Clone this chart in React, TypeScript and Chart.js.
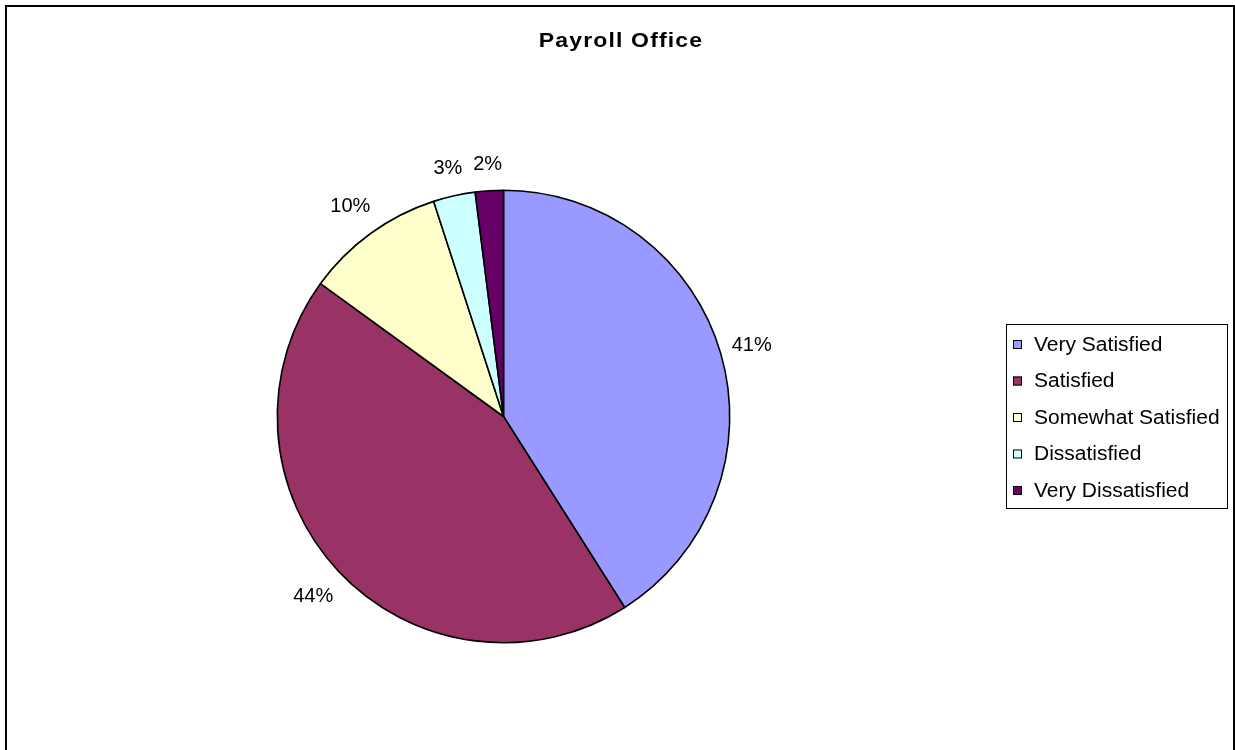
import React, { useEffect, useRef } from "react";
import { Chart, registerables } from "chart.js";

Chart.register(...registerables);

const TITLE = "Payroll Office";
const CATEGORIES = [
  "Very Satisfied",
  "Satisfied",
  "Somewhat Satisfied",
  "Dissatisfied",
  "Very Dissatisfied",
];
const VALUES = [41, 44, 10, 3, 2];
const COLORS = ["#9999FF", "#993366", "#FFFFCC", "#CCFFFF", "#660066"];

const FONT = "'Liberation Sans', Arial, sans-serif";

function drawStretched(
  ctx: CanvasRenderingContext2D,
  text: string,
  x: number,
  y: number,
  sx: number,
  align: "left" | "center"
) {
  const w = ctx.measureText(text).width * sx;
  const left = align === "center" ? x - w / 2 : x;
  ctx.save();
  ctx.translate(left, y);
  ctx.scale(sx, 1);
  ctx.textAlign = "left";
  ctx.fillText(text, 0, 0);
  ctx.restore();
}

const decorPlugin = {
  id: "decor",
  afterDraw(chart: any) {
    const ctx = chart.ctx as CanvasRenderingContext2D;
    const total = VALUES.reduce((a, b) => a + b, 0);
    // outer frame
    ctx.save();
    ctx.strokeStyle = "#000";
    ctx.lineWidth = 2;
    ctx.strokeRect(6, 6, 1228, 800);
    ctx.restore();

    // title
    ctx.save();
    ctx.fillStyle = "#000";
    ctx.font = `bold 20px ${FONT}`;
    (ctx as any).letterSpacing = "1px";
    ctx.textBaseline = "alphabetic";
    drawStretched(ctx, TITLE, 621, 47, 1.15, "center");
    ctx.restore();

    // data labels outside slices
    const meta = chart.getDatasetMeta(0);
    ctx.save();
    ctx.fillStyle = "#000";
    ctx.font = `20px ${FONT}`;
    ctx.textAlign = "center";
    ctx.textBaseline = "middle";
    meta.data.forEach((arc: any, i: number) => {
      const { x, y, startAngle, endAngle, outerRadius } = arc.getProps(
        ["x", "y", "startAngle", "endAngle", "outerRadius"],
        true
      );
      const mid = (startAngle + endAngle) / 2;
      const c = Math.cos(mid);
      const s = Math.sin(mid);
      const txt = Math.round((VALUES[i] / total) * 100) + "%";
      const w = ctx.measureText(txt).width;
      const h = 36;
      const proj = Math.abs(c) * (w / 2) + Math.abs(s) * (h / 2);
      const d = outerRadius + 8 + proj;
      ctx.fillText(txt, x + c * d, y + s * d + 1);
    });
    ctx.restore();

    // legend
    ctx.save();
    ctx.strokeStyle = "#000";
    ctx.lineWidth = 1;
    ctx.strokeRect(1006.5, 324.5, 221, 184);
    ctx.font = `20px ${FONT}`;
    ctx.textBaseline = "middle";
    CATEGORIES.forEach((lab, i) => {
      const cy = 344 + i * 36.5;
      ctx.fillStyle = COLORS[i];
      ctx.fillRect(1013, cy - 4, 9, 9);
      ctx.strokeStyle = "#000";
      ctx.strokeRect(1013.5, cy - 3.5, 8, 8);
      ctx.fillStyle = "#000";
      drawStretched(ctx, lab, 1034, cy + 1, 1.05, "left");
    });
    ctx.restore();
  },
};

export default function App() {
  const ref = useRef<HTMLCanvasElement | null>(null);
  useEffect(() => {
    document.body.style.margin = "0";
    const canvas = ref.current!;
    const chart = new Chart(canvas, {
      type: "pie",
      data: {
        labels: CATEGORIES,
        datasets: [
          {
            data: VALUES,
            backgroundColor: COLORS,
            borderColor: "#000",
            borderWidth: 1.6,
          },
        ],
      },
      options: {
        responsive: false,
        animation: false,
        devicePixelRatio: 1,
        layout: {
          padding: { left: 276.5, right: 504.5, top: 189.5, bottom: 106.5 },
        },
        plugins: {
          legend: { display: false },
          title: { display: false },
          tooltip: { enabled: false },
        },
      },
      plugins: [decorPlugin],
    });
    return () => chart.destroy();
  }, []);
  return (
    <canvas
      ref={ref}
      width={1235}
      height={750}
      style={{ display: "block", width: 1235, height: 750, background: "#fff" }}
    />
  );
}
